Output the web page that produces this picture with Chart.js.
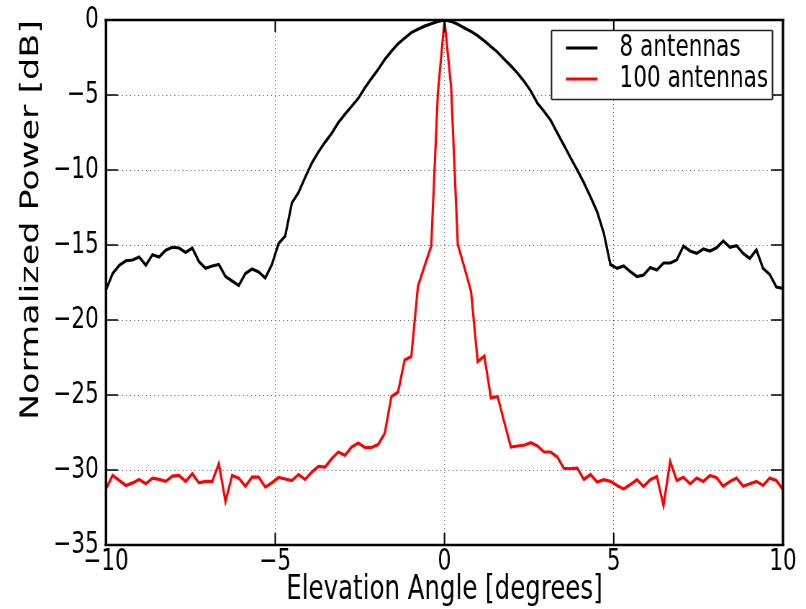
<!DOCTYPE html>
<html>
<head>
<meta charset="utf-8">
<title>Elevation beam pattern</title>
<script src="https://cdn.jsdelivr.net/npm/chart.js@4.4.1/dist/chart.umd.min.js"></script>
<style>
    html, body { margin: 0; padding: 0; background: #fff; overflow: hidden; }
    /* the original figure is squeezed horizontally, so the whole chart is drawn wide and scaled */
    #wrap { width: 1120px; height: 609px; transform: scaleX(0.71964); transform-origin: 0 0; }
</style>
</head>
<body>
<div id="wrap"><canvas id="chart" width="1120" height="609"></canvas></div>
<script>
// --- Data ---
// 103 elevation samples between -10 and 10 degrees
const angles = Array.from({ length: 103 }, (_, k) => -10 + k * 20 / 102);

const power8 = [
    -18.0, -16.9, -16.35, -16.05, -16.0, -15.8, -16.35, -15.65, -15.8, -15.35,
    -15.15, -15.2, -15.5, -15.2, -16.1, -16.55, -16.4, -16.3, -17.1, -17.4,
    -17.7, -16.9, -16.6, -16.8, -17.2, -16.3,
    -14.9, -14.4, -12.2, -11.5, -10.5, -9.55, -8.8, -8.15, -7.56, -6.84,
    -6.28, -5.76, -5.23, -4.53, -3.9, -3.3, -2.63, -2.08, -1.59, -1.2,
    -0.84, -0.62, -0.41, -0.25, -0.09, 0,
    -0.09, -0.29, -0.53, -0.76, -1.05, -1.39, -1.78, -2.15, -2.62, -3.06,
    -3.54, -4.1, -4.73, -5.54, -6.09, -6.69, -7.53, -8.35, -9.19, -10.0,
    -10.85, -11.79, -12.79, -14.2,
    -16.3, -16.56, -16.4, -16.78, -17.1, -17.0, -16.5, -16.67, -16.2, -16.2,
    -16.0, -15.07, -15.4, -15.56, -15.27, -15.4, -15.18, -14.73, -15.16, -15.04,
    -15.56, -15.9, -15.33, -16.56, -16.96, -17.8, -17.9
];

const power100 = [
    -31.26, -30.36, -30.7, -31.03, -30.86, -30.63, -30.92, -30.54, -30.63, -30.76,
    -30.41, -30.36, -30.76, -30.25, -30.86, -30.76, -30.76, -29.58, -32.1, -30.36,
    -30.54, -31.08, -30.48, -30.48, -31.14, -30.85,
    -30.5, -30.6, -30.7, -30.3, -30.63, -30.14, -29.76, -29.8, -29.25, -28.8,
    -29.02, -28.47, -28.2, -28.5, -28.5, -28.3, -27.55, -25.1, -24.8, -22.66,
    -22.44, -17.75, -16.4, -15.07, -4.9, 0,
    -4.47, -14.96, -16.5, -18.1, -22.77, -22.4, -25.2, -25.1, -26.8, -28.47,
    -28.4, -28.35, -28.18, -28.4, -28.8, -28.8, -29.14, -29.9, -29.9, -29.87,
    -30.63, -30.3, -30.8, -30.65, -30.76, -31.03, -31.26, -30.97, -30.65, -31.1,
    -30.65, -30.43, -32.37, -29.43, -30.7, -30.48, -30.92, -30.54, -30.76, -30.36,
    -30.52, -31.08, -30.76, -30.54, -31.08, -30.92, -30.76, -31.03, -30.54, -30.7,
    -31.3
];

const seriesNames = ['8 antennas', '100 antennas'];
const seriesColors = ['#000000', '#ff0000'];
const xTicks = [-10, -5, 0, 5, 10];
const yTicks = [0, -5, -10, -15, -20, -25, -30, -35];

// --- Helpers ---
const SX = 806 / 1120;
const FONT = 'DejaVu Sans';

function fmtTick(v) {
    return v < 0 ? '\u2212' + Math.abs(v) : String(v);
}

function line(ctx, x1, y1, x2, y2) {
    ctx.beginPath();
    ctx.moveTo(x1, y1);
    ctx.lineTo(x2, y2);
    ctx.stroke();
}

// frame + inward tick marks, matplotlib style
const framePlugin = {
    id: 'frame',
    afterDatasetsDraw(chart) {
        const { ctx, chartArea: a, scales } = chart;
        ctx.save();
        ctx.strokeStyle = '#000';
        ctx.lineWidth = 1.5 / SX;
        xTicks.forEach(v => {
            const px = scales.x.getPixelForValue(v);
            line(ctx, px, a.bottom, px, a.bottom - 12);
            line(ctx, px, a.top, px, a.top + 12);
        });
        ctx.lineWidth = 1.5;
        yTicks.forEach(v => {
            const py = scales.y.getPixelForValue(v);
            line(ctx, a.left, py, a.left + 12 / SX, py);
            line(ctx, a.right, py, a.right - 12 / SX, py);
        });
        ctx.lineWidth = 2.5;
        line(ctx, a.left - 1.5 / SX, a.top, a.right + 1.5 / SX, a.top);
        line(ctx, a.left - 1.5 / SX, a.bottom, a.right + 1.5 / SX, a.bottom);
        ctx.lineWidth = 2.5 / SX;
        line(ctx, a.left, a.top, a.left, a.bottom);
        line(ctx, a.right, a.top, a.right, a.bottom);
        ctx.restore();
    }
};

// legend box in the upper right corner of the plot
const legendPlugin = {
    id: 'legendBox',
    afterDraw(chart) {
        const { ctx } = chart;
        const left = 551.5 / SX, right = 772.5 / SX, top = 30.5, bottom = 99.5;
        ctx.save();
        ctx.fillStyle = '#fff';
        ctx.fillRect(left, top, right - left, bottom - top);
        ctx.strokeStyle = '#222';
        ctx.lineWidth = 1.5;
        line(ctx, left, top, right, top);
        line(ctx, left, bottom, right, bottom);
        ctx.lineWidth = 1.5 / SX;
        line(ctx, left, top, left, bottom);
        line(ctx, right, top, right, bottom);

        chart.data.datasets.forEach((ds, i) => {
            const y = 48 + i * 31;
            ctx.strokeStyle = ds.borderColor;
            ctx.lineWidth = 3.2;
            line(ctx, 566 / SX, y, 597.5 / SX, y);
            ctx.fillStyle = '#000';
            ctx.font = '30px "' + FONT + '"';
            ctx.textBaseline = 'middle';
            ctx.textAlign = 'left';
            ctx.fillText(ds.label, 619.5 / SX, y);
        });
        ctx.restore();
    }
};

// --- Chart ---
const ctx = document.getElementById('chart');

new Chart(ctx, {
    type: 'line',
    data: {
        datasets: [power8, power100].map((vals, i) => ({
            label: seriesNames[i],
            data: angles.map((a, k) => ({ x: a, y: vals[k] })),
            borderColor: seriesColors[i],
            backgroundColor: seriesColors[i],
            borderWidth: 3.2,
            pointRadius: 0,
            tension: 0,
            fill: false
        }))
    },
    options: {
        responsive: false,
        devicePixelRatio: 1,
        animation: false,
        layout: { padding: { left: 0, right: 32, top: 20, bottom: 0 } },
        plugins: {
            legend: { display: false },
            tooltip: { enabled: false }
        },
        scales: {
            x: {
                type: 'linear',
                min: -10,
                max: 10,
                afterBuildTicks: s => { s.ticks = xTicks.map(v => ({ value: v })); },
                afterFit: s => { s.height = 64; },
                grid: { color: 'rgba(0,0,0,0.6)', lineWidth: 1, drawTicks: false },
                border: { display: false, dash: [1, 3] },
                ticks: {
                    autoSkip: false,
                    maxRotation: 0,
                    padding: 2,
                    color: '#000',
                    font: { family: FONT, size: 30, lineHeight: 1 },
                    callback: fmtTick
                },
                title: {
                    display: true,
                    text: 'Elevation Angle [degrees]',
                    color: '#000',
                    font: { family: FONT, size: 34, lineHeight: 1 },
                    padding: { top: 0, bottom: 2 }
                }
            },
            y: {
                type: 'linear',
                min: -35,
                max: 0,
                afterBuildTicks: s => { s.ticks = yTicks.map(v => ({ value: v })); },
                afterFit: s => { s.width = 106 / SX; },
                // transparent tick marks keep the labels away from the axis
                grid: {
                    color: 'rgba(0,0,0,0.6)', lineWidth: 1,
                    drawTicks: true, tickLength: 10, tickColor: 'rgba(0,0,0,0)'
                },
                border: { display: false, dash: [1.4, 4.2] },
                ticks: {
                    autoSkip: false,
                    padding: 0,
                    color: '#000',
                    font: { family: FONT, size: 30, lineHeight: 1 },
                    callback: fmtTick
                },
                title: {
                    display: true,
                    text: 'Normalized Power [dB]',
                    align: 'end',
                    color: '#000',
                    font: { family: FONT, size: 35, lineHeight: 1 },
                    padding: { top: 26, bottom: 0 }
                }
            }
        }
    },
    plugins: [framePlugin, legendPlugin]
});
</script>
</body>
</html>
